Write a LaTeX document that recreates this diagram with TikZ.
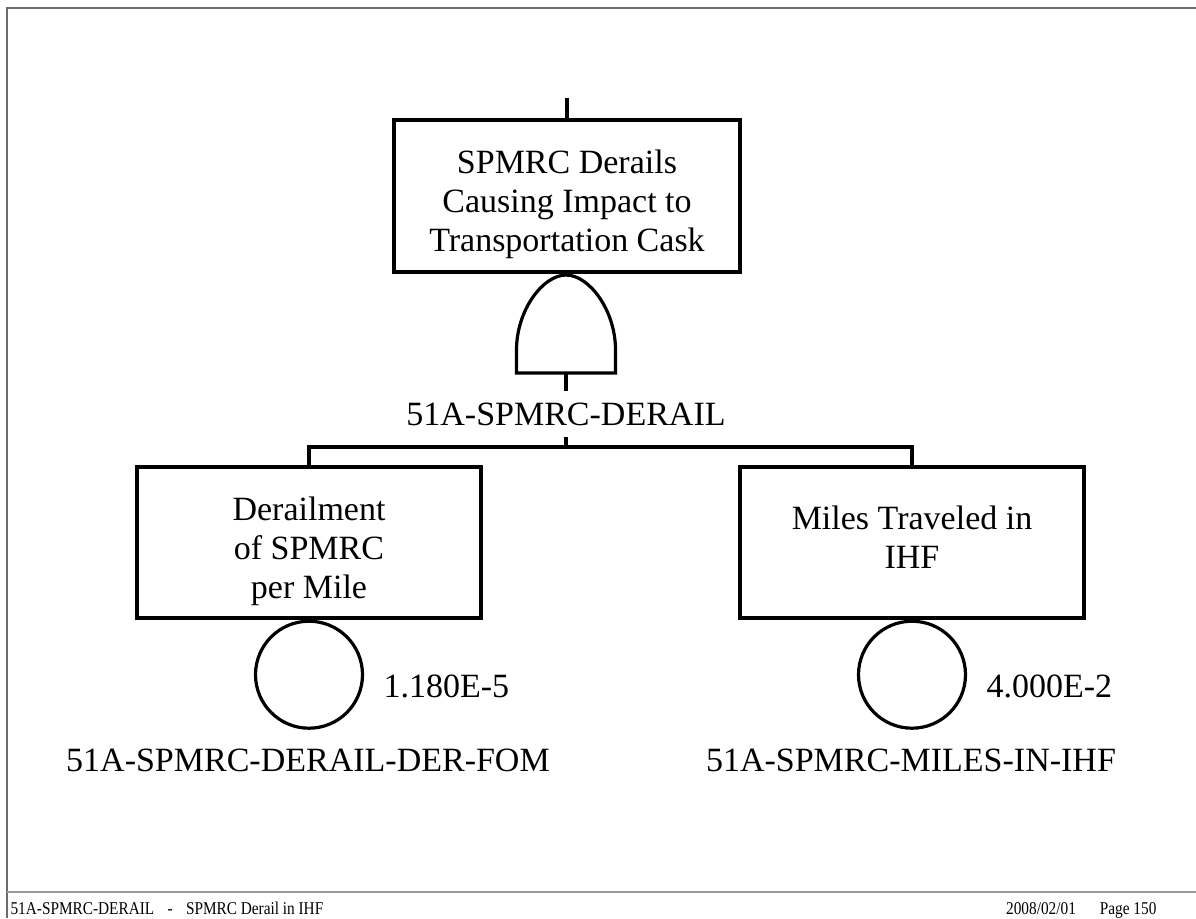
\documentclass[tikz,border=0pt]{standalone}
\usepackage{fontspec}
\setmainfont{Liberation Serif}
\newfontfamily\footfont[FakeStretch=0.85]{Liberation Serif}
\usetikzlibrary{positioning}
\begin{document}
\begin{tikzpicture}[x=0.75pt,y=-0.75pt,line width=2.4pt,
    font=\fontsize{25.5}{29.25}\selectfont,
    event/.style={draw,rectangle,inner sep=0pt,minimum width=258pt,minimum height=113.25pt},
    evtext/.style={align=center,inner sep=0pt},
    basic/.style={draw,circle,inner sep=0pt,minimum size=80.25pt},
    tag/.style={inner sep=0pt,anchor=base},
    foot/.style={font=\footfont\fontsize{13.5}{15}\selectfont,inner sep=0pt,anchor=base west}]
  \useasboundingbox (0,0) rectangle (1196,918);
  \draw[line width=1.5pt,black!58] (7,918) -- (7,8) -- (1196,8);
  \draw[line width=1.2pt,black!40] (7,892) -- (1196,892);
  \node[event,minimum width=259.5pt,minimum height=114pt] (top) at (567,196) {};
  \node[evtext,yshift=-6pt] (toptxt) at (top) {SPMRC Derails\\Causing Impact to\\Transportation Cask};
  \coordinate (topin) at (567,98);
  \draw (topin) -- (top);
  \coordinate (andgate) at (566,373);
  \draw (516.5,373) -- (516.5,350) .. controls (516.5,310) and (543,275) .. (566,275)
    .. controls (589,275) and (615.5,310) .. (615.5,350) -- (615.5,373) -- cycle;
  \node[tag,inner sep=7.5pt] (gatelab) at (566,425) {51A-SPMRC-DERAIL};
  \draw (andgate) -- (gatelab.north);
  \coordinate (bar) at (566,447);
  \draw (gatelab.south) -- (bar);
  \node[event] (derail) at (309,542.5) {};
  \node[evtext,yshift=-6.4pt] (derailtxt) at (derail) {Derailment\\of SPMRC\\per Mile};
  \node[event] (miles) at (912,542.5) {};
  \node[evtext,yshift=4.2pt] (milestxt) at (miles) {Miles Traveled in\\IHF};
  \draw (derail.north) |- (bar) -| (miles.north);
  \node[basic,below=0pt of derail] (derfom) {};
  \node[basic,below=0pt of miles] (ihf) {};
  \node[tag,anchor=base west] (derfomval) at (382,697) {1.180E-5};
  \node[tag,anchor=base west] (ihfval) at (985,697) {4.000E-2};
  \node[tag] (derfomlab) at (308,771) {51A-SPMRC-DERAIL-DER-FOM};
  \node[tag] (ihflab) at (911,771) {51A-SPMRC-MILES-IN-IHF};
  \node[foot] (footl) at (9,914) {51A-SPMRC-DERAIL\hspace{10pt}-\hspace{10pt}SPMRC Derail in IHF};
  \node[foot,anchor=base east] (footr) at (1158,914) {2008/02/01\hspace{18pt}Page 150};
\end{tikzpicture}
\end{document}
